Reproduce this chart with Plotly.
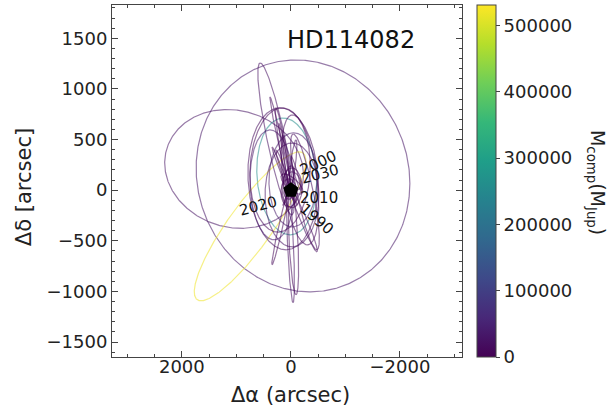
import numpy as np
import plotly.graph_objects as go
from plotly.colors import sample_colorscale

# Projected relative orbits of the HD114082 companion (arcsec on sky).
# Each orbit is an ellipse: centre + u*cos(t) + v*sin(t)
orbit_cx = [-222, 1042, 77, 749, 273, 145, -167, 346, 199, 172, 163, 7, -48,
            190, -240, -20, -38, 145, -20, 35, -258, 81, -57, 81, -38, 145,
            40, -60, 110, -20, 60, -90]
orbit_cy = [141, 210, 136, -357, 506, 112, 102, 52, 199, 413, 176, -530, -505,
            -367, -303, -47, 102, 383, 23, -27, -17, -76, -76, 274, 250, 200,
            120, 90, 330, 60, -40, 170]
orbit_ux = [-1960, -1273, -549, -970, 293, -641, -146, -403, -549, 211, 183, -46, -46,
            156, -238, -494, -439, 128, -183, -146, -220, 64, -55, 64, -55, 128,
            -40, 60, 110, -30, -60, 90]
orbit_uy = [-75, -59, -66, 725, 750, 0, -642, 0, -39, 508, 252, -582, -528,
            -370, -306, 0, -30, 429, 0, -20, -572, -74, -74, 271, 247, 197,
            120, 90, 330, 60, -40, 170]
orbit_vx = [0, 0, 0, -326, -161, -55, -311, -37, 73, -37, -27, -55, -82,
            -37, -55, 0, 40, -55, 0, 15, -146, -18, -18, -37, -46, -37,
            -90, -110, -30, -200, -40, -30]
orbit_vy = [1143, -584, -573, -127, 18, -701, 20, -543, -612, 4, 6, 0, 0,
            -5, 13, -513, -464, -5, -197, -138, 20, 0, 0, 0, 0, 5,
            10, 15, 5, -80, 30, 0]
# Companion mass for each orbit (Jupiter masses)
orbit_mass = [30000, 25000, 260000, 520000, 20000, 15000, 10000, 40000, 8000, 12000,
              5000, 18000, 6000, 9000, 14000, 22000, 35000, 7000, 3000, 2000,
              12000, 4000, 4000, 10000, 16000, 6000,
              3000, 5000, 8000, 2000, 4000, 6000]

# Epoch labels along the orbit
epoch_text = ["2000", "2030", "2010", "1990", "2020"]
epoch_x = [-500, -540, -520, -480, 600]
epoch_y = [270, 160, -80, -280, -155]
epoch_angle = [-25, -15, 0, 41, -15]

mass_max = 531000
x_range = [3281, -3138]
y_range = [-1648, 1829]

t = np.linspace(0, 2 * np.pi, 500)
fig = go.Figure()

for cx, cy, ux, uy, vx, vy, m in zip(orbit_cx, orbit_cy, orbit_ux, orbit_uy,
                                       orbit_vx, orbit_vy, orbit_mass):
    col = sample_colorscale("Viridis", [m / mass_max])[0]
    fig.add_trace(go.Scatter(
        x=cx + ux * np.cos(t) + vx * np.sin(t),
        y=cy + uy * np.cos(t) + vy * np.sin(t),
        mode="lines", line=dict(color=col, width=1.2), opacity=0.55,
        hoverinfo="skip", showlegend=False))

# Host star
fig.add_trace(go.Scatter(x=[0], y=[0], mode="markers",
                         marker=dict(symbol="pentagon", size=16, color="black"),
                         hoverinfo="skip", showlegend=False))

# Colour bar for companion mass
fig.add_trace(go.Scatter(
    x=[None], y=[None], mode="markers", showlegend=False, hoverinfo="skip",
    marker=dict(color=orbit_mass, cmin=0, cmax=mass_max, colorscale="Viridis",
                showscale=True,
                colorbar=dict(x=1.042, xanchor="left", xpad=0, ypad=0,
                              y=0.5, yanchor="middle", len=1, lenmode="fraction",
                              thickness=19, outlinewidth=1, outlinecolor="#444",
                              tick0=0, dtick=100000, tickformat="d",
                              ticks="outside", ticklen=4, tickcolor="#444",
                              tickfont=dict(family="DejaVu Sans", size=18, color="#222")))))

annotations = []
for txt, ex, ey, ang in zip(epoch_text, epoch_x, epoch_y, epoch_angle):
    annotations.append(dict(x=ex, y=ey, xref="x", yref="y", text=txt, showarrow=False,
                            textangle=ang, xanchor="center", yanchor="middle",
                            font=dict(family="DejaVu Sans", size=15, color="#111")))

annotations += [
    dict(x=0.683, y=0.90, xref="paper", yref="paper", text="HD114082", showarrow=False,
         xanchor="center", yanchor="middle",
         font=dict(family="DejaVu Sans", size=24, color="#111")),
    dict(x=0.509, y=-0.108, xref="paper", yref="paper", text="Δα (arcsec)",
         showarrow=False, xanchor="center", yanchor="middle",
         font=dict(family="DejaVu Sans", size=21, color="#222")),
    dict(x=-0.251, y=0.483, xref="paper", yref="paper", text="Δδ [arcsec]",
         showarrow=False, textangle=-90, xanchor="center", yanchor="middle",
         font=dict(family="DejaVu Sans", size=21, color="#222")),
    dict(x=1.386, y=0.497, xref="paper", yref="paper",
         text="M<sub>comp</sub>(M<sub>Jup</sub>)", showarrow=False, textangle=90,
         xanchor="center", yanchor="middle",
         font=dict(family="DejaVu Sans", size=19, color="#222")),
]

axis_common = dict(showgrid=False, zeroline=False, showline=True, linecolor="#444",
                   linewidth=1, mirror="allticks", ticks="inside", ticklen=6,
                   tickcolor="#444", tickwidth=1,
                   tickfont=dict(family="DejaVu Sans", size=18, color="#222"))

fig.update_layout(
    width=613, height=415,
    margin=dict(l=112, r=151, t=5, b=58),
    paper_bgcolor="white", plot_bgcolor="white",
    xaxis=dict(range=x_range, tick0=0, dtick=2000, ticklabelstandoff=-7,
               minor=dict(dtick=500, ticklen=3, ticks="inside", tickcolor="#444"),
               **axis_common),
    yaxis=dict(range=y_range, tick0=0, dtick=500,
               minor=dict(dtick=100, ticklen=3, ticks="inside", tickcolor="#444"),
               **axis_common),
    annotations=annotations,
)

fig.write_html("out.html")
